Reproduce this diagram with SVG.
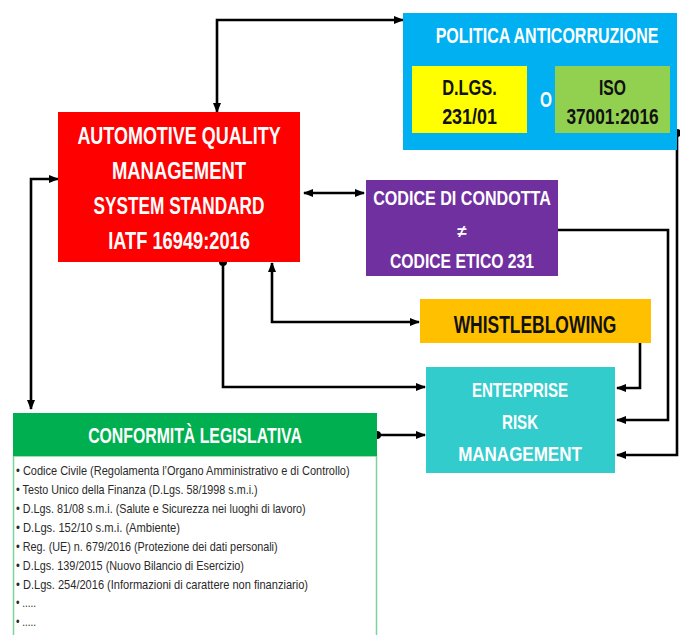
<svg xmlns="http://www.w3.org/2000/svg" width="680" height="635" viewBox="0 0 680 635">
<defs>
<marker id="ah" viewBox="0 0 10 8" refX="9" refY="4" markerWidth="10" markerHeight="8" markerUnits="userSpaceOnUse" orient="auto-start-reverse">
<path d="M0,0 L10,4 L0,8 z" fill="#000"/>
</marker>
<style>
.t{font-family:"Liberation Sans",Arial,sans-serif;font-weight:bold;text-anchor:middle}
.w{fill:#fff}
.k{fill:#111}
.li{font-family:"Liberation Sans",Arial,sans-serif;font-size:12.5px;fill:#2a2a2a}
.c{fill:none;stroke:#000;stroke-width:2.6}
.a{marker-end:url(#ah)}
.b{marker-start:url(#ah);marker-end:url(#ah)}
</style>
</defs>
<rect width="680" height="635" fill="#fff"/>
<g id="connectors">
<path class="c b" d="M217,112 V20 H403"/>
<path class="c b" d="M58,179 H31 V409"/>
<path class="c b" d="M304,193 H364"/>
<path class="c b" d="M272,263 V322 H419"/>
<path class="c a" d="M223,262 V387 H425"/>
<circle cx="223" cy="262" r="4"/>
<path class="c a" d="M377,435 H425"/>
<circle cx="377" cy="435" r="4"/>
<path class="c a" d="M640,343 V388 H617"/>
<path class="c a" d="M547,230 H668 V420 H617"/>
<circle cx="547" cy="230" r="4"/>
<path class="c a" d="M677,133 V455 H617"/>
<circle cx="677" cy="133" r="4"/>
</g>
<g id="politica">
<rect x="403" y="13" width="274" height="137" fill="#00B0F0"/>
<text class="t w" font-size="22" transform="translate(547,43) scale(0.75,1)" textLength="297" lengthAdjust="spacingAndGlyphs">POLITICA ANTICORRUZIONE</text>
<text class="t w" font-size="22" transform="translate(546,107) scale(0.75,1)" textLength="16" lengthAdjust="spacingAndGlyphs">O</text>
</g>
<g id="dlgs">
<rect x="412" y="66" width="115" height="67" fill="#FFFF00"/>
<text class="t k" font-size="22" transform="translate(469.5,95) scale(0.75,1)" textLength="73" lengthAdjust="spacingAndGlyphs">D.LGS.</text>
<text class="t k" font-size="22" transform="translate(469.5,124) scale(0.75,1)" textLength="73" lengthAdjust="spacingAndGlyphs">231/01</text>
</g>
<g id="iso">
<rect x="555" y="66" width="115" height="67" fill="#92D050"/>
<text class="t k" font-size="22" transform="translate(612.5,95) scale(0.75,1)" textLength="36" lengthAdjust="spacingAndGlyphs">ISO</text>
<text class="t k" font-size="22" transform="translate(612.5,124) scale(0.75,1)" textLength="123" lengthAdjust="spacingAndGlyphs">37001:2016</text>
</g>
<g id="iatf">
<rect x="58" y="112" width="242" height="150" fill="#FF0000"/>
<text class="t w" font-size="23" transform="translate(179,144) scale(0.75,1)" textLength="271" lengthAdjust="spacingAndGlyphs">AUTOMOTIVE QUALITY</text>
<text class="t w" font-size="23" transform="translate(179,179) scale(0.75,1)" textLength="179" lengthAdjust="spacingAndGlyphs">MANAGEMENT</text>
<text class="t w" font-size="23" transform="translate(179,214) scale(0.75,1)" textLength="228" lengthAdjust="spacingAndGlyphs">SYSTEM STANDARD</text>
<text class="t w" font-size="23" transform="translate(179,249) scale(0.75,1)" textLength="189" lengthAdjust="spacingAndGlyphs">IATF 16949:2016</text>
</g>
<g id="codice">
<rect x="366" y="180" width="192" height="96" fill="#7030A0"/>
<text class="t w" font-size="21" transform="translate(462,205) scale(0.75,1)" textLength="237" lengthAdjust="spacingAndGlyphs">CODICE DI CONDOTTA</text>
<text class="t w" font-size="17" x="462" y="237">≠</text>
<text class="t w" font-size="21" transform="translate(462,268) scale(0.75,1)" textLength="192" lengthAdjust="spacingAndGlyphs">CODICE ETICO 231</text>
</g>
<g id="whistleblowing">
<rect x="420" y="299" width="231" height="44" fill="#FFC000"/>
<text class="t k" font-size="23" transform="translate(535,333) scale(0.75,1)" textLength="217" lengthAdjust="spacingAndGlyphs">WHISTLEBLOWING</text>
</g>
<g id="erm">
<rect x="426" y="367" width="189" height="106" fill="#33CCCC"/>
<text class="t w" font-size="21" transform="translate(520,397) scale(0.75,1)" textLength="128" lengthAdjust="spacingAndGlyphs">ENTERPRISE</text>
<text class="t w" font-size="21" transform="translate(520,429) scale(0.75,1)" textLength="48" lengthAdjust="spacingAndGlyphs">RISK</text>
<text class="t w" font-size="21" transform="translate(520,461) scale(0.75,1)" textLength="165" lengthAdjust="spacingAndGlyphs">MANAGEMENT</text>
</g>
<g id="conformita">
<rect x="13.5" y="456" width="363" height="190" fill="#fff" stroke="#7ED39A" stroke-width="1.5"/>
<rect x="13" y="413" width="364" height="43" fill="#00B050"/>
<text class="t w" font-size="22" transform="translate(195,443) scale(0.75,1)" textLength="285" lengthAdjust="spacingAndGlyphs">CONFORMITÀ LEGISLATIVA</text>
<text class="li" transform="translate(16,475) scale(0.8,1)" textLength="417" lengthAdjust="spacingAndGlyphs">• Codice Civile (Regolamenta l’Organo Amministrativo e di Controllo)</text>
<text class="li" transform="translate(16,494) scale(0.8,1)" textLength="302" lengthAdjust="spacingAndGlyphs">• Testo Unico della Finanza (D.Lgs. 58/1998 s.m.i.)</text>
<text class="li" transform="translate(16,513) scale(0.8,1)" textLength="362" lengthAdjust="spacingAndGlyphs">• D.Lgs. 81/08 s.m.i. (Salute e Sicurezza nei luoghi di lavoro)</text>
<text class="li" transform="translate(16,532) scale(0.8,1)" textLength="205" lengthAdjust="spacingAndGlyphs">• D.Lgs. 152/10 s.m.i. (Ambiente)</text>
<text class="li" transform="translate(16,551) scale(0.8,1)" textLength="327" lengthAdjust="spacingAndGlyphs">• Reg. (UE) n. 679/2016 (Protezione dei dati personali)</text>
<text class="li" transform="translate(16,570) scale(0.8,1)" textLength="285" lengthAdjust="spacingAndGlyphs">• D.Lgs. 139/2015 (Nuovo Bilancio di Esercizio)</text>
<text class="li" transform="translate(16,589) scale(0.8,1)" textLength="365" lengthAdjust="spacingAndGlyphs">• D.Lgs. 254/2016 (Informazioni di carattere non finanziario)</text>
<text class="li" transform="translate(16,607) scale(0.8,1)">• .....</text>
<text class="li" transform="translate(16,626) scale(0.8,1)">• .....</text>
</g>
</svg>
